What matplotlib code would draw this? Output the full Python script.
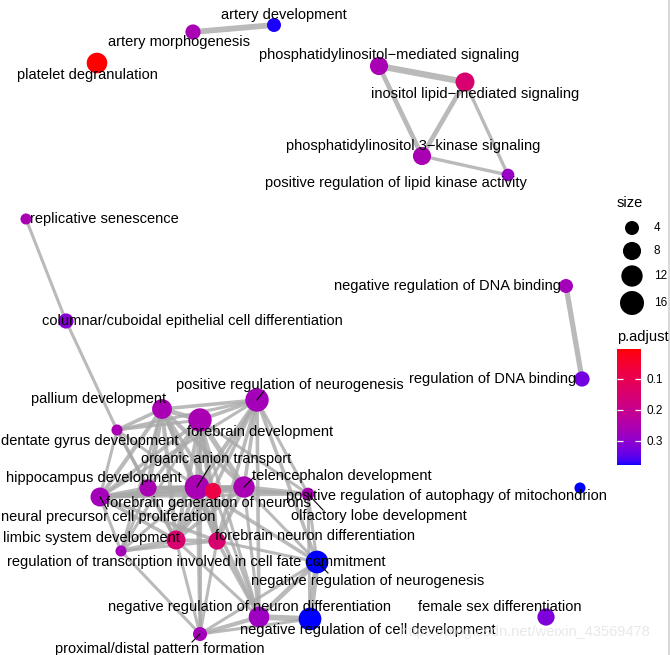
import numpy as np
import matplotlib
matplotlib.use("Agg")
import matplotlib.pyplot as plt
from matplotlib.colors import ListedColormap, Normalize
from matplotlib.cm import ScalarMappable

plt.rcParams['font.family'] = ['Liberation Sans', 'DejaVu Sans']

# ---------------- data ----------------
terms = [
    "artery development", "artery morphogenesis", "platelet degranulation",
    "phosphatidylinositol\u2212mediated signaling", "inositol lipid\u2212mediated signaling",
    "phosphatidylinositol 3\u2212kinase signaling", "positive regulation of lipid kinase activity",
    "replicative senescence", "columnar/cuboidal epithelial cell differentiation",
    "negative regulation of DNA binding", "regulation of DNA binding",
    "positive regulation of autophagy of mitochondrion", "female sex differentiation",
    "pallium development", "positive regulation of neurogenesis", "forebrain development",
    "dentate gyrus development", "organic anion transport", "hippocampus development",
    "telencephalon development", "forebrain generation of neurons",
    "neural precursor cell proliferation", "olfactory lobe development",
    "limbic system development", "forebrain neuron differentiation",
    "regulation of transcription involved in cell fate commitment",
    "negative regulation of neurogenesis", "negative regulation of neuron differentiation",
    "negative regulation of cell development", "proximal/distal pattern formation",
]
# network layout coordinates
layout_x = [274, 193, 97, 379, 465, 422, 508, 26, 66, 566, 582, 580, 546,
            162, 257, 200, 117, 197, 148, 244, 100, 213, 308, 176, 217, 121, 317, 259, 310, 200]
layout_y = [25, 32, 63, 66, 82, 156, 175, 219, 321, 286, 379, 488, 617,
            409, 400, 420, 430, 487, 488, 487, 497, 491, 494, 540, 541, 551, 562, 617, 619, 634]
gene_count = [4, 5, 11, 8, 9, 8, 3, 2, 5, 4, 5, 2, 7,
              10, 15, 15, 2, 17, 7, 12, 9, 6, 3, 9, 7, 2, 14, 11, 14, 4]
p_adjust = [0.375, 0.26, 0.005, 0.26, 0.15, 0.26, 0.29, 0.26, 0.31, 0.27, 0.33, 0.378, 0.32,
            0.26, 0.27, 0.26, 0.26, 0.26, 0.26, 0.26, 0.27, 0.08, 0.26, 0.15, 0.15, 0.27,
            0.378, 0.28, 0.378, 0.27]
# repelled label centres
label_x = [284, 179, 87, 389, 475, 413, 396, 104, 192, 448, 493, 446, 500,
           99, 290, 260, 90, 216, 94, 342, 208, 108, 379, 91, 315, 196, 368, 250, 368, 160]
label_y = [15, 42, 75, 55, 94, 146, 183, 219, 321, 286, 379, 496, 607,
           399, 385, 432, 441, 459, 478, 476, 503, 517, 516, 538, 536, 562, 581, 607, 630, 649]
# leader-line ends (offset from node) for repelled labels
leader_terms = [14, 17, 19, 20, 22, 26, 29]
leader_dx = [7, 13, 10, 7, 15, 11, -8]
leader_dy = [-9, -21, -10, 12, 16, 11, 8]

edges = [
    (0, 1, .8), (3, 4, .9), (3, 5, .6), (4, 5, .6), (4, 6, .35), (5, 6, .35),
    (7, 8, .3), (8, 16, .3), (9, 10, .7),
    (13, 15, .6), (13, 14, .4), (13, 16, .4), (13, 17, .5), (13, 18, .7), (13, 19, .5),
    (13, 20, .5), (13, 21, .4), (13, 23, .5), (13, 24, .4), (13, 25, .3),
    (14, 15, .4), (14, 17, .5), (14, 19, .4), (14, 21, .4), (14, 22, .3), (14, 24, .4),
    (14, 26, .4), (14, 27, .4), (14, 20, .3), (14, 16, .3), (14, 23, .3),
    (15, 16, .3), (15, 17, .6), (15, 18, .4), (15, 19, .7), (15, 20, .4), (15, 21, .4),
    (15, 22, .3), (15, 23, .5), (15, 24, .5), (15, 25, .3), (15, 27, .3), (15, 29, .3),
    (16, 18, .4), (16, 20, .3), (16, 23, .3), (16, 17, .3),
    (17, 18, .5), (17, 19, .6), (17, 20, .6), (17, 21, .6), (17, 22, .3), (17, 23, .5),
    (17, 24, .5), (17, 25, .3), (17, 26, .4), (17, 27, .4), (17, 29, .3),
    (18, 20, .5), (18, 19, .4), (18, 23, .5), (18, 21, .4), (18, 25, .3),
    (19, 20, .4), (19, 21, .5), (19, 22, .5), (19, 23, .4), (19, 24, .5), (19, 26, .3), (19, 27, .3),
    (20, 21, .6), (20, 23, .4), (20, 24, .4), (20, 25, .3), (20, 22, .3),
    (21, 23, .4), (21, 24, .4), (21, 22, .3), (21, 27, .3),
    (22, 26, .3), (22, 28, .3),
    (23, 24, .4), (23, 25, .6), (23, 29, .3), (23, 27, .3),
    (24, 26, .3), (24, 27, .4), (24, 29, .3), (24, 25, .3),
    (25, 29, .3),
    (26, 27, .6), (26, 28, .8), (26, 29, .3),
    (27, 28, .8), (27, 29, .5), (28, 29, .3),
]

size_breaks = [4, 8, 12, 16]
padj_ticks = [0.1, 0.2, 0.3]

# ---------------- colour scale (Lab interpolation red -> blue) ----------------
def srgb_to_lab(rgb):
    rgb = np.asarray(rgb, float)
    lin = np.where(rgb <= 0.04045, rgb / 12.92, ((rgb + 0.055) / 1.055) ** 2.4)
    M = np.array([[0.4124, 0.3576, 0.1805], [0.2126, 0.7152, 0.0722], [0.0193, 0.1192, 0.9505]])
    xyz = M @ lin / np.array([0.95047, 1.0, 1.08883])
    f = np.where(xyz > 0.008856, np.cbrt(xyz), 7.787 * xyz + 16 / 116)
    return np.array([116 * f[1] - 16, 500 * (f[0] - f[1]), 200 * (f[1] - f[2])])

def lab_to_srgb(lab):
    L, a, b = lab
    fy = (L + 16) / 116
    fx = fy + a / 500
    fz = fy - b / 200
    f = np.array([fx, fy, fz])
    xyz = np.where(f ** 3 > 0.008856, f ** 3, (f - 16 / 116) / 7.787) * np.array([0.95047, 1.0, 1.08883])
    Minv = np.array([[3.2406, -1.5372, -0.4986], [-0.9689, 1.8758, 0.0415], [0.0557, -0.2040, 1.0570]])
    lin = np.clip(Minv @ xyz, 0, 1)
    rgb = np.where(lin <= 0.0031308, 12.92 * lin, 1.055 * lin ** (1 / 2.4) - 0.055)
    return np.clip(rgb, 0, 1)

lab_r = srgb_to_lab([1, 0, 0])
lab_b = srgb_to_lab([0, 0, 1])
cmap = ListedColormap([lab_to_srgb(lab_r + t * (lab_b - lab_r)) for t in np.linspace(0, 1, 256)])
norm = Normalize(vmin=min(p_adjust), vmax=max(p_adjust))

def marker_area(n):
    d_px = 14 + 5 * (np.sqrt(np.asarray(n, float)) - 2)
    return (d_px * 0.72) ** 2

# ---------------- figure ----------------
W, H = 670, 655
fig = plt.figure(figsize=(W / 100, H / 100), dpi=100)
ax = fig.add_axes([0, 0, 1, 1])
ax.set_xlim(0, W)
ax.set_ylim(H, 0)
ax.axis("off")

x = np.array(layout_x, float)
y = np.array(layout_y, float)

for i, j, s in edges:
    ax.plot([x[i], x[j]], [y[i], y[j]], color="darkgrey", alpha=0.8,
            lw=(1.4 + 5.5 * s) * 0.72, solid_capstyle="butt", zorder=1)

ax.scatter(x, y, s=marker_area(gene_count), c=p_adjust, cmap=cmap, norm=norm,
           linewidths=0, zorder=2)

for k, ddx, ddy in zip(leader_terms, leader_dx, leader_dy):
    ax.plot([x[k], x[k] + ddx], [y[k], y[k] + ddy], color="black", lw=0.8, zorder=3)

fs = 10.5
for k, t in enumerate(terms):
    ax.text(label_x[k], label_y[k], t, ha="center", va="center", fontsize=fs,
            color="black", zorder=4)

# size legend
ax.text(617, 203, "size", fontsize=10.5, ha="left", va="center")
leg_y = [228, 251, 276, 303]
ax.scatter([632] * len(size_breaks), leg_y, s=marker_area(size_breaks), color="black",
           linewidths=0, zorder=5)
for yy, b in zip(leg_y, size_breaks):
    ax.text(654, yy, str(b), fontsize=8.5, ha="left", va="center")

# p.adjust colourbar
ax.text(617, 337, "p.adjust", fontsize=10.5, ha="left", va="center")
cax = fig.add_axes([617 / W, (H - 465) / H, 24 / W, 116 / H])
sm = ScalarMappable(norm=norm, cmap=cmap)
cb = fig.colorbar(sm, cax=cax)
cb.outline.set_visible(False)
cax.invert_yaxis()
cb.set_ticks(padj_ticks)
cb.set_ticklabels([f"{v:.1f}" for v in padj_ticks])
cax.tick_params(axis="y", direction="in", length=4.5, width=0.9, colors="white",
                left=True, right=True, labelcolor="black", labelsize=8.5, pad=4)

# screenshot border + watermark
ax.axvline(668.5, color="#d9d9d9", lw=1.5, zorder=0)
ax.text(525, 632, "https://blog.csdn.net/weixin_43569478", fontsize=10.5, ha="center",
        va="center", color="#e3e3e3", alpha=0.8, zorder=6)

fig.savefig("out.png", dpi=100)
